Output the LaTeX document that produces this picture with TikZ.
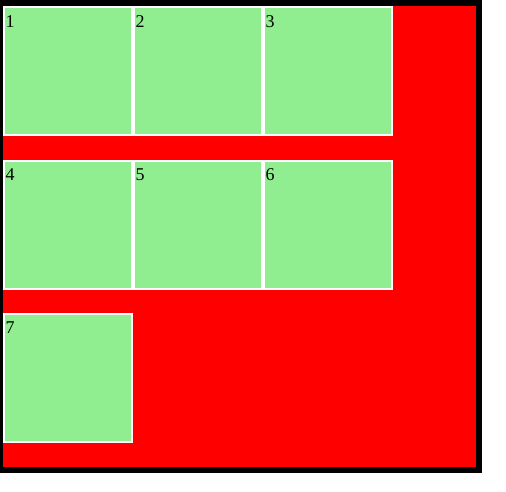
\documentclass[tikz,border=0pt]{standalone}
\usepackage{fontspec}
\setmainfont{Liberation Serif}
\usetikzlibrary{positioning}
\definecolor{PageRed}{RGB}{255,0,0}
\definecolor{CellGreen}{RGB}{144,238,144}

\begin{document}
\begin{tikzpicture}[
        x=1pt,y=-1pt,
        every node/.style={font=\fontsize{18}{21}\selectfont},
        cellBox/.style={rectangle,fill=CellGreen,draw=white,line width=2pt,
          minimum width=128pt,minimum height=128pt,inner sep=0pt},
        cellNum/.style={inner sep=0pt,text=black}]
        \useasboundingbox (0,0) rectangle (506,491);
        \fill[black] (0,0) rectangle (482,473);
        \fill[PageRed] (3,6) rectangle (476,467);
        \node[cellBox] (c1) at (68,71) {};
        \node[cellBox] (c2) at (198,71) {};
        \node[cellBox] (c3) at (328,71) {};
        \node[cellBox] (c4) at (68,224.5) {};
        \node[cellBox] (c5) at (198,224.5) {};
        \node[cellBox] (c6) at (328,224.5) {};
        \node[cellBox] (c7) at (68,378) {};
        % numbers sit in the top left corner of each cell
        \node[cellNum,below right=9pt and 2.5pt of c1.north west] (n1) {1};
        \node[cellNum,below right=9pt and 2.5pt of c2.north west] (n2) {2};
        \node[cellNum,below right=9pt and 2.5pt of c3.north west] (n3) {3};
        \node[cellNum,below right=9pt and 2.5pt of c4.north west] (n4) {4};
        \node[cellNum,below right=9pt and 2.5pt of c5.north west] (n5) {5};
        \node[cellNum,below right=9pt and 2.5pt of c6.north west] (n6) {6};
        \node[cellNum,below right=9pt and 2.5pt of c7.north west] (n7) {7};
      \end{tikzpicture}
\end{document}
